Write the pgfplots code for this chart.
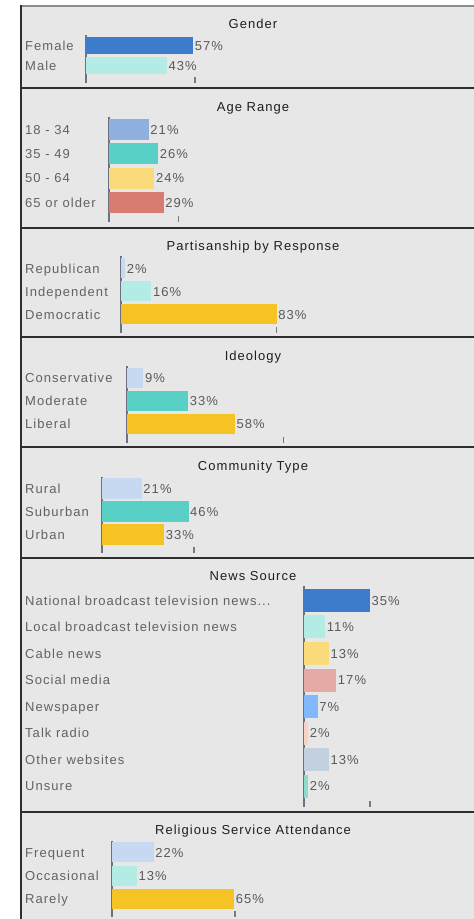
\documentclass[border=0pt]{standalone}
\usepackage{fontspec}
\setmainfont{Liberation Sans}[LetterSpace=8]
\usepackage{pgfplots}
\pgfplotsset{compat=1.18}

\definecolor{bg}{HTML}{E7E7E7}
\definecolor{topc}{HTML}{8C8C8C}
\definecolor{borderc}{HTML}{2E2E2E}
\definecolor{axisc}{HTML}{6B7180}
\definecolor{tickc}{HTML}{7A7A7A}
\definecolor{labc}{HTML}{626262}
\definecolor{valc}{HTML}{5A5A5A}
\definecolor{titlec}{HTML}{1E1E1E}
\definecolor{blueA}{HTML}{3D7BCB}
\definecolor{tealL}{HTML}{B3EBE5}
\definecolor{blueL}{HTML}{8DB0E0}
\definecolor{teal}{HTML}{58D0C5}
\definecolor{yellowL}{HTML}{FADB7C}
\definecolor{salmon}{HTML}{D87B70}
\definecolor{paleblue}{HTML}{C6D9F1}
\definecolor{gold}{HTML}{F5C324}
\definecolor{pink}{HTML}{E5AAA5}
\definecolor{skyblue}{HTML}{80B9FF}
\definecolor{peach}{HTML}{F6D3C3}
\definecolor{grayblue}{HTML}{C3D0DE}
\definecolor{mint}{HTML}{8FDCCB}

\newcommand\lab{\fontsize{13}{15}\selectfont}

\pgfplotsset{
  panel/.style={
    xbar, scale only axis, clip=false,
    axis lines*=left,
    x axis line style={draw=none},
    y axis line style={draw=axisc, line width=2pt},
    xmin=0, xmax=100, width=187pt,
    xticklabels={},
    ytick style={draw=none},
    xtick style={draw=tickc, line width=1.3pt},
    major tick length=6pt, tick align=inside,
    yticklabel style={anchor=west, inner xsep=0pt, font=\lab, text=labc, text height=11.5pt, text depth=2pt, xshift=#1},
    point meta=x,
    /pgf/number format/assume math mode=true,
    nodes near coords={\pgfmathprintnumber{\pgfplotspointmeta}\%},
    every node near coord/.append style={anchor=west, inner xsep=1.5pt, font=\lab, text=valc, text height=11.5pt, text depth=2pt},
  },
  bb/.style={xbar, fill=#1, draw=none, bar shift=0pt},
}

\begin{document}
\begin{tikzpicture}[x=1pt,y=1pt]
\path[use as bounding box] (0,0) rectangle (474,919);
\fill[white] (0,0) rectangle (474,919);
\fill[bg] (21,0) rectangle (474,913);
\draw[topc, line width=2pt] (21,913) -- (474,913);
\draw[borderc, line width=2pt] (21,0) -- (21,914);
\foreach \yy in {831,691,582,472,361,107} {\draw[borderc, line width=2pt] (21,\yy) -- (474,\yy);}

\tikzset{ttl/.style={font=\lab, text=titlec, anchor=base, inner sep=0pt}}
\node[ttl] at (253,{919-29}) {Gender};
\node[ttl] at (253,{919-111.5}) {Age Range};
\node[ttl] at (253,{919-250.5}) {Partisanship by Response};
\node[ttl] at (253,{919-360.5}) {Ideology};
\node[ttl] at (253,{919-470.5}) {Community Type};
\node[ttl] at (253,{919-580.5}) {News Source};
\node[ttl] at (253,{919-835}) {Religious Service Attendance};

% Gender
\begin{axis}[panel=-61.5pt, at={(86.5pt,836pt)}, anchor=south west, height=48pt,
  bar width=17pt, ymin=-0.875, ymax=1.525, ytick={0,1}, yticklabels={Male,Female}, xtick={58}]
\addplot[bb=blueA] coordinates {(57,1)};
\addplot[bb=tealL] coordinates {(43,0)};
\end{axis}

% Age range
\begin{axis}[panel=-84.5pt, at={(109.5pt,697pt)}, anchor=south west, height=105pt,
  bar width=21pt, ymin=-0.807, ymax=3.514, ytick={0,1,2,3},
  yticklabels={65 or older,50 - 64,35 - 49,18 - 34}, xtick={37}]
\addplot[bb=blueL] coordinates {(21,3)};
\addplot[bb=teal] coordinates {(26,2)};
\addplot[bb=yellowL] coordinates {(24,1)};
\addplot[bb=salmon] coordinates {(29,0)};
\end{axis}

% Partisanship
\begin{axis}[panel=-96.5pt, at={(121.5pt,586pt)}, anchor=south west, height=77pt,
  bar width=20pt, ymin=-0.804, ymax=2.543, ytick={0,1,2},
  yticklabels={Democratic,Independent,Republican}, xtick={83}]
\addplot[bb=paleblue] coordinates {(2,2)};
\addplot[bb=tealL] coordinates {(16,1)};
\addplot[bb=gold] coordinates {(83,0)};
\end{axis}

% Ideology
\begin{axis}[panel=-101.5pt, at={(126.5pt,476pt)}, anchor=south west, height=77pt,
  bar width=20pt, ymin=-0.826, ymax=2.522, ytick={0,1,2},
  yticklabels={Liberal,Moderate,Conservative}, xtick={84}]
\addplot[bb=paleblue] coordinates {(9,2)};
\addplot[bb=teal] coordinates {(33,1)};
\addplot[bb=gold] coordinates {(58,0)};
\end{axis}

% Community type
\begin{axis}[panel=-77.5pt, at={(102.5pt,366pt)}, anchor=south west, height=76pt,
  bar width=21pt, ymin=-0.804, ymax=2.5, ytick={0,1,2},
  yticklabels={Urban,Suburban,Rural}, xtick={49}]
\addplot[bb=paleblue] coordinates {(21,2)};
\addplot[bb=teal] coordinates {(46,1)};
\addplot[bb=gold] coordinates {(33,0)};
\end{axis}

% News source
\begin{axis}[panel=-279.5pt, at={(304.5pt,112pt)}, anchor=south west, height=221pt,
  xmax=80, width=149.6pt,
  bar width=23pt, ymin=-0.792, ymax=7.547, ytick={0,1,2,3,4,5,6,7},
  yticklabels={Unsure,Other websites,Talk radio,Newspaper,Social media,Cable news,Local broadcast television news,National broadcast television news.{}.{}.},
  xtick={35}]
\addplot[bb=blueA] coordinates {(35,7)};
\addplot[bb=tealL] coordinates {(11,6)};
\addplot[bb=yellowL] coordinates {(13,5)};
\addplot[bb=pink] coordinates {(17,4)};
\addplot[bb=skyblue] coordinates {(7,3)};
\addplot[bb=peach] coordinates {(2,2)};
\addplot[bb=grayblue] coordinates {(13,1)};
\addplot[bb=mint] coordinates {(2,0)};
\end{axis}

% Religious service attendance
\begin{axis}[panel=-87.5pt, at={(112.5pt,2pt)}, anchor=south west, height=76pt,
  bar width=20pt, ymin=-0.804, ymax=2.5, ytick={0,1,2},
  yticklabels={Rarely,Occasional,Frequent}, xtick={65.5}]
\addplot[bb=paleblue] coordinates {(22,2)};
\addplot[bb=tealL] coordinates {(13,1)};
\addplot[bb=gold] coordinates {(65,0)};
\end{axis}
\end{tikzpicture}
\end{document}
